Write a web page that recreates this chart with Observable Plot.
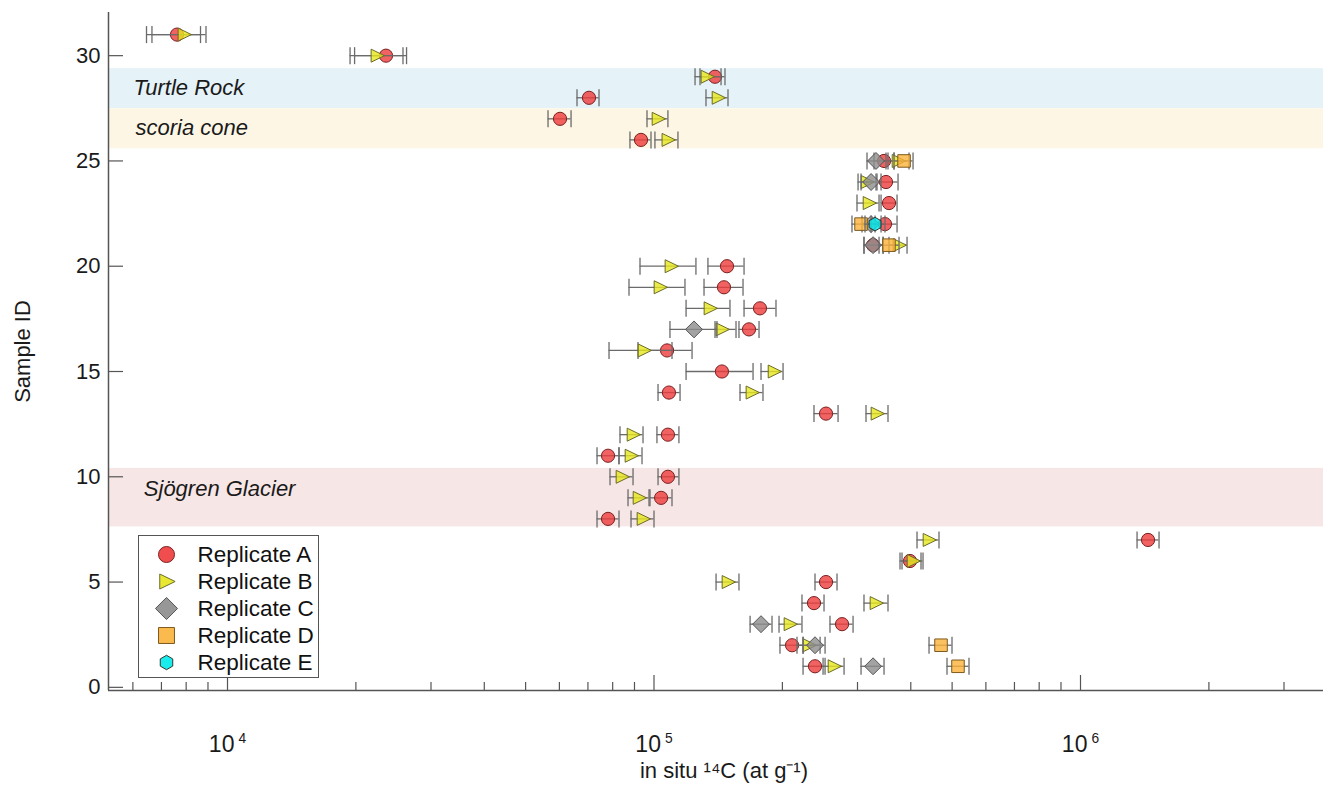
<!DOCTYPE html>
<html><head><meta charset="utf-8">
<script src="https://cdn.jsdelivr.net/npm/d3@7"></script>
<script src="https://cdn.jsdelivr.net/npm/@observablehq/plot@0.6"></script>
<style>
body{margin:0;background:#fff;font-family:"Liberation Sans",Arial,sans-serif;}
#wrap{position:relative;width:1323px;height:785px;overflow:hidden;}
#legend{position:absolute;left:138px;top:535px;width:179px;height:141px;border:1.5px solid #555;background:#fff;}
#legend svg{display:block;}
</style></head><body><div id="wrap"><div id="chart"></div><div id="legend"></div></div>
<script>
// ---------- data ----------
const replicates = ["Replicate A", "Replicate B", "Replicate C", "Replicate D", "Replicate E"];
// [sample ID, in situ 14C (at/g), lower error, upper error]
const repA = [
  [31,7614,6458,8644],[30,23530,19860,26290],[29,139000,128200,146700],[28,70400,65990,74310],
  [27,60210,56430,63900],[26,93220,87830,98390],[25,346200,328000,365400],[24,349900,331500,373400],
  [23,355600,340700,371400],[22,348000,329800,371400],[21,326300,310700,344400],[20,148300,133800,162600],
  [19,145900,131000,161700],[18,177200,162600,193200],[17,167000,158200,176300],[16,107300,91720,122800],
  [15,144300,118900,170700],[14,108400,102200,115100],[13,253100,237200,270100],[12,107800,101600,114400],
  [11,78020,73520,82780],[10,107800,102200,114400],[9,103900,97860,110200],[8,78020,73520,82780],
  [7,1440000,1357000,1528000],[6,398300,377400,422700],[5,253100,238500,268600],[4,237200,222300,250400],
  [3,276000,258600,292900],[2,210700,197400,223600],[1,238500,223600,251800]
];
const repB = [
  [31,7906,6651,8904],[30,22410,19380,25790],[29,133100,124800,143600],[28,141300,132400,149100],
  [27,102200,96290,107800],[26,107800,100500,113800],[25,373400,353700,396200],[24,315800,300900,333300],
  [23,319300,299200,337000],[21,375400,355600,392000],[20,109600,92720,125400],[19,103300,87370,118200],
  [18,135300,118900,150700],[17,144300,139000,155700],[16,94750,78440,110200],[15,191200,178200,200700],
  [14,169700,159100,180100],[13,333300,314100,353700],[12,89290,83230,94240],[11,88330,82780,93730],
  [10,84130,78860,89290],[9,92230,86910,97340],[8,94240,88330,100000],[7,441400,413700,465800],
  [6,404900,381500,427300],[5,149100,139800,158200],[4,331500,310700,353700],[3,208400,196400,222300],
  [2,230900,216400,245100],[1,264300,249100,279000]
];
const repC = [
  [25,331500,315800,349900],[24,322800,305800,340700],[22,322800,307400,340700],[21,326300,310700,344400],
  [17,124100,109000,140500],[3,178200,168000,189100],[2,238500,223600,251800],[1,326300,305800,346200]
];
const repD = [
  [25,385700,365400,404900],[22,305800,291200,322800],[21,355600,337000,375400],
  [2,470900,441400,499700],[1,516100,486400,547700]
];
const repE = [
  [22,329800,312400,348000]
];
const bandNames = ["Turtle Rock", "scoria cone", "Sjögren Glacier"];
const bandLow = [27.48, 25.58, 7.62];
const bandHigh = [29.38, 27.48, 10.4];
const bandLabelY = [28.49, 26.59, 9.44];
const bandLabelX = [6020, 6085, 6365];
const yTicks = [0, 5, 10, 15, 20, 25, 30];
const xMajorTicks = [1e4, 1e5, 1e6];
const xMinorTicks = [6000, 7000, 8000, 9000,
  2e4, 3e4, 4e4, 5e4, 6e4, 7e4, 8e4, 9e4,
  2e5, 3e5, 4e5, 5e5, 6e5, 7e5, 8e5, 9e5,
  2e6, 3e6];
const xDomain = [5260, 3.713e6];
const yDomain = [-0.15, 32.05];
const xLabel = "in situ ¹⁴C (at g⁻¹)";
const yLabel = "Sample ID";

// ---------- styles ----------
const bandColors = ["#e5f2f8", "#fdf6e5", "#f6e6e6"];
const rOf = s => Math.sqrt(s / Math.PI);
const symCircle = {draw(c, s) { const r = rOf(s); c.moveTo(r, 0); c.arc(0, 0, r, 0, 2 * Math.PI); c.closePath(); }};
const symTri = {draw(c, s) { const r = rOf(s); c.moveTo(-0.9 * r, -r); c.lineTo(1.15 * r, 0); c.lineTo(-0.9 * r, r); c.closePath(); }};
const symDiamond = {draw(c, s) { const r = rOf(s) * 1.3; c.moveTo(0, -r); c.lineTo(r, 0); c.lineTo(0, r); c.lineTo(-r, 0); c.closePath(); }};
const symSquare = {draw(c, s) { const r = rOf(s) * 0.95; c.rect(-r, -r, 2 * r, 2 * r); }};
const symHex = {draw(c, s) { const r = rOf(s); for (let i = 0; i < 6; i++) { const a = Math.PI / 3 * i - Math.PI / 2; const px = r * Math.cos(a), py = r * Math.sin(a); if (i === 0) c.moveTo(px, py); else c.lineTo(px, py); } c.closePath(); }};
const symCap = {draw(c, s) { const r = rOf(s); c.moveTo(0, -r); c.lineTo(0, r); }};

const repStyle = {
  "Replicate A": {symbol: symCircle, fill: "#ee3b3b", stroke: "#7a2020", r: 6.6, lr: 8},
  "Replicate B": {symbol: symTri, fill: "#e6e61c", stroke: "#6b6b28", r: 6.5, lr: 7.5},
  "Replicate C": {symbol: symDiamond, fill: "#8c8c8c", stroke: "#555555", r: 6.5, lr: 8.5},
  "Replicate D": {symbol: symSquare, fill: "#fbb23a", stroke: "#7d5a1e", r: 6.6, lr: 8.4},
  "Replicate E": {symbol: symHex, fill: "#00eaea", stroke: "#333333", r: 6.8, lr: 7.2}
};
const barColor = "#6b6b6b";
const FONT = "'Liberation Sans', Arial, sans-serif";

const toRows = (arr, rep) => arr.map(d => ({rep, sample: d[0], value: d[1], lo: d[2], hi: d[3]}));
const series = [toRows(repA, replicates[0]), toRows(repB, replicates[1]), toRows(repC, replicates[2]), toRows(repD, replicates[3]), toRows(repE, replicates[4])];

const marks = [];
bandNames.forEach((n, i) => {
  marks.push(Plot.rect([i], {x1: () => xDomain[0], x2: () => xDomain[1], y1: j => bandLow[j], y2: j => bandHigh[j], fill: bandColors[i]}));
});
marks.push(Plot.text(bandNames, {x: (d, i) => bandLabelX[i], y: (d, i) => bandLabelY[i], text: d => d, textAnchor: "start", fontStyle: "italic", fontSize: 22, fill: "#1a1a1a"}));

series.forEach(rows => {
  const st = repStyle[rows[0].rep];
  marks.push(Plot.ruleY(rows, {y: "sample", x1: "lo", x2: "hi", stroke: barColor, strokeWidth: 1.3}));
  marks.push(Plot.dot(rows, {x: "lo", y: "sample", symbol: symCap, r: 8.5, stroke: barColor, fill: "none", strokeWidth: 1.3}));
  marks.push(Plot.dot(rows, {x: "hi", y: "sample", symbol: symCap, r: 8.5, stroke: barColor, fill: "none", strokeWidth: 1.3}));
  marks.push(Plot.dot(rows, {x: "value", y: "sample", symbol: st.symbol, r: st.r, fill: st.fill, fillOpacity: 0.8, stroke: st.stroke, strokeWidth: 1}));
});

// axes
marks.push(Plot.ruleX([xDomain[0]], {stroke: "#555", strokeWidth: 1.5}));
marks.push(Plot.ruleY([yDomain[0]], {stroke: "#555", strokeWidth: 1.5}));
marks.push(Plot.axisY(yTicks, {anchor: "left", tickSize: -15, tickPadding: 23, stroke: "#555", fill: "#1a1a1a", fontSize: 22, label: null, strokeWidth: 1.2}));
marks.push(Plot.axisX(xMajorTicks, {anchor: "bottom", tickSize: -15, tickPadding: 60, stroke: "#555", fill: "#1a1a1a", fontSize: 23, label: null, strokeWidth: 1.2, tickFormat: d => "10^" + Math.round(Math.log10(d))}));
marks.push(Plot.axisX(xMinorTicks, {anchor: "bottom", tickSize: -8, stroke: "#555", fill: "none", label: null, strokeWidth: 1.2, tickFormat: () => ""}));
marks.push(Plot.text([xLabel], {frameAnchor: "bottom", dy: 80, dx: 8, lineAnchor: "middle", textAnchor: "middle", fontSize: 22, fill: "#1a1a1a"}));
marks.push(Plot.text([yLabel], {frameAnchor: "left", dx: -86, rotate: -90, textAnchor: "middle", lineAnchor: "middle", fontSize: 22, fill: "#1a1a1a"}));

const chart = Plot.plot({
  width: 1323, height: 785,
  marginLeft: 108, marginRight: 0, marginTop: 12, marginBottom: 95,
  style: {fontFamily: FONT, background: "#fff", color: "#222"},
  x: {type: "log", domain: xDomain},
  y: {domain: yDomain},
  marks
});
// superscript exponents on the x tick labels
const NS = "http://www.w3.org/2000/svg";
chart.querySelectorAll('g[aria-label="x-axis tick label"] text').forEach(t => {
  const s = t.textContent;
  if (!s.includes("^")) return;
  const [b, e] = s.split("^");
  t.textContent = "";
  const t1 = document.createElementNS(NS, "tspan"); t1.textContent = b;
  const t2 = document.createElementNS(NS, "tspan"); t2.textContent = e;
  t2.setAttribute("dy", "-0.65em"); t2.setAttribute("dx", "4"); t2.setAttribute("font-size", "0.6em");
  t.appendChild(t1); t.appendChild(t2);
});
document.getElementById("chart").appendChild(chart);

// legend (drawn with Plot)
const legendMarks = [];
replicates.forEach(rep => {
  const st = repStyle[rep];
  legendMarks.push(Plot.dot([rep], {y: d => d, frameAnchor: "left", dx: 27, symbol: st.symbol, r: st.lr, fill: st.fill, fillOpacity: 0.9, stroke: st.stroke, strokeWidth: 1}));
});
legendMarks.push(Plot.text(replicates, {y: d => d, frameAnchor: "left", dx: 58, textAnchor: "start", lineAnchor: "middle", fontSize: 22.5, fill: "#111"}));
const legend = Plot.plot({
  width: 179, height: 141, margin: 0,
  style: {fontFamily: FONT, background: "#fff"},
  x: {axis: null},
  y: {type: "point", domain: replicates, range: [17.5, 127], padding: 0, axis: null},
  marks: legendMarks
});
document.getElementById("legend").appendChild(legend);
</script>
</body></html>
